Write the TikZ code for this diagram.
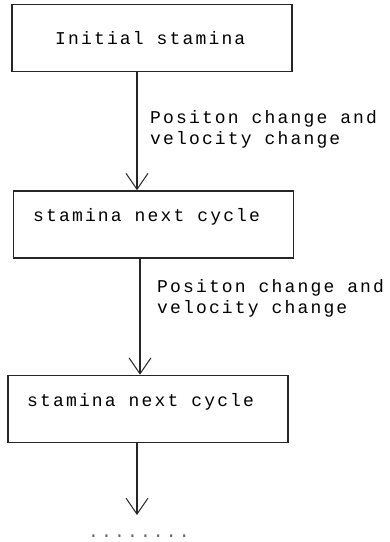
\documentclass[tikz,border=0pt]{standalone}
\usepackage{fontspec}
\usetikzlibrary{arrows.meta}
\newfontfamily\labfont[LetterSpace=12]{Liberation Mono}
\tikzset{
  stagebox/.style={draw=black!85, line width=1.6pt, rectangle, minimum width=280pt, minimum height=67pt, inner sep=0pt},
  boxtext/.style={font=\labfont\fontsize{18}{21}\selectfont, inner sep=0pt, anchor=west},
  labtext/.style={font=\labfont\fontsize{18}{21}\selectfont, inner sep=0pt, anchor=west, align=left},
  flow/.style={draw=black!85, line width=1.6pt, -{Straight Barb[length=16pt,width=22pt,line width=1pt]}},
}
\begin{document}
\begin{tikzpicture}[x=1pt,y=-1pt]
\useasboundingbox (0,0) rectangle (390,542);
\node[stagebox] (b1) at (152,38) {};
\node[stagebox] (b2) at (153.5,224.5) {};
\node[stagebox] (b3) at (148,409) {};
\node[boxtext] (t1) at (55,38) {Initial stamina};
\node[boxtext] (t2) at (33,217) {stamina next cycle};
\node[boxtext] (t3) at (27,402) {stamina next cycle};
\coordinate (c1) at (137,0);
\coordinate (c2) at (140,0);
\coordinate (c3) at (137,0);
\coordinate (e3) at (137,515);
\draw[flow] (b1.south -| c1) -- (b2.north -| c1);
\draw[flow] (b2.south -| c2) -- (b3.north -| c2);
\draw[flow] (b3.south -| c3) -- (e3);
\node[labtext] (l1) at (150,129) {Positon change and\\velocity change};
\node[labtext] (l2) at (157,298) {Positon change and\\velocity change};
\node[boxtext, text=black!60] (dots) at (88,536) {........};
\end{tikzpicture}
\end{document}
